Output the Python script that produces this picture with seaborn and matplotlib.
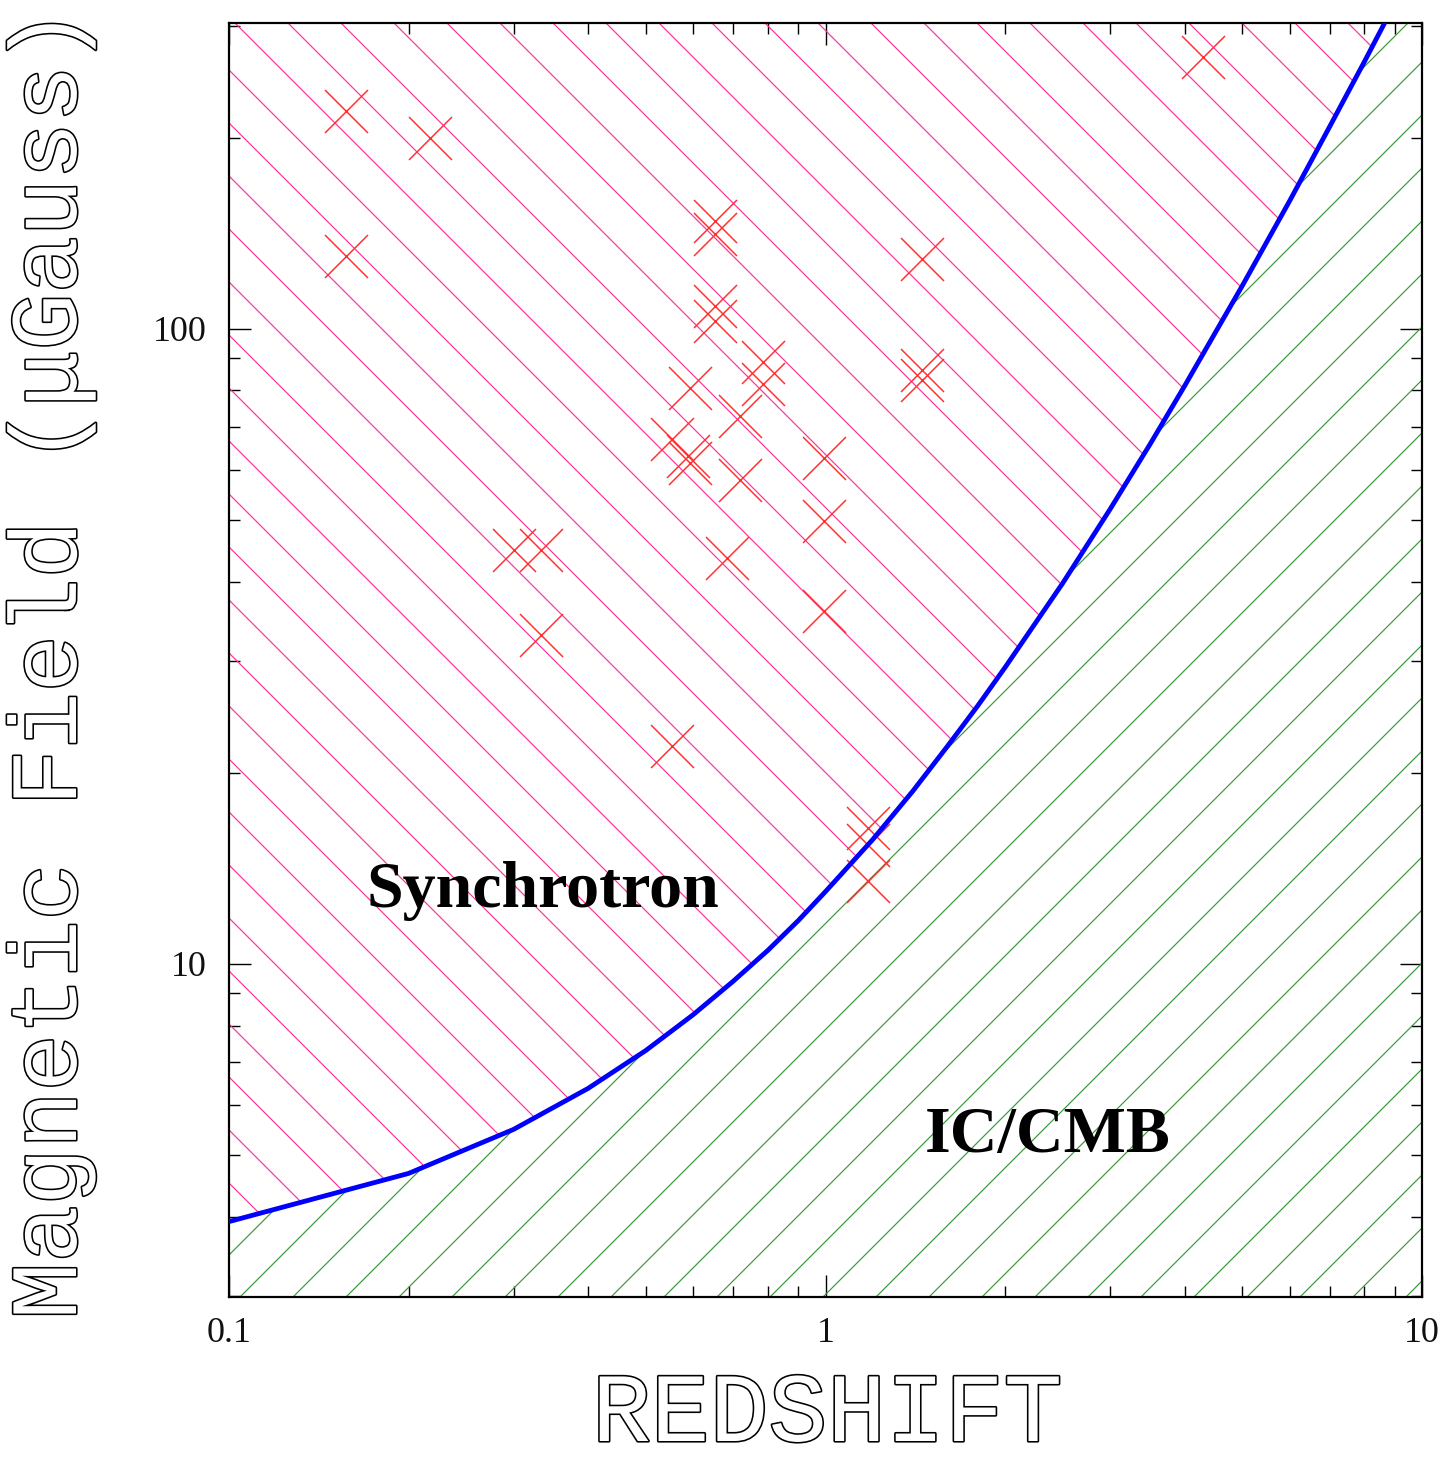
import matplotlib
matplotlib.use("Agg")
import matplotlib.pyplot as plt
import matplotlib.patheffects as pe
from matplotlib.ticker import NullFormatter
import seaborn as sns

# Field equivalent to the CMB energy density versus redshift (microgauss)
curve_z = [0.1, 0.2, 0.3, 0.4, 0.5, 0.6, 0.7, 0.8, 0.9, 1.0,
           1.2, 1.4, 1.6, 1.8, 2.0, 2.5, 3.0, 3.5, 4.0, 5.0,
           6.0, 7.0, 8.0, 9.0, 10.0]
curve_b = [3.93, 4.68, 5.49, 6.37, 7.31, 8.32, 9.39, 10.5, 11.7, 13.0,
           15.7, 18.7, 22.0, 25.5, 29.3, 39.8, 52.0, 65.8, 81.3, 117.0,
           159.0, 208.0, 263.0, 325.0, 393.0]

# Equipartition field estimates for individual sources
src_z = [0.157, 0.217, 0.157, 0.652, 0.652, 0.652, 0.652, 1.452, 1.452, 1.452,
         0.785, 0.785, 0.592, 0.718, 0.553, 0.589, 0.592, 0.718, 0.996, 0.996,
         0.301, 0.333, 0.683, 0.333, 0.996, 0.553, 1.18, 1.18, 1.18, 4.29]
src_b = [220.0, 200.0, 130.0, 148.0, 141.0, 108.8, 103.0, 129.0, 86.1, 83.2,
         88.5, 82.0, 80.6, 72.8, 67.1, 63.1, 61.5, 57.7, 62.5, 49.9,
         44.9, 44.8, 43.5, 32.9, 36.0, 22.0, 16.4, 15.4, 13.5, 268.0]

x_ticks = [0.1, 1, 10]
x_tick_labels = ["0.1", "1", "10"]
y_ticks = [10, 100]
y_tick_labels = ["10", "100"]
x_lim = (0.1, 10.0)
y_lim = (2.99, 303.0)

PINK = "#ff3399"
GREEN = "#3a9a3a"
RED = "#ff3030"
BLUE = "#0000ff"

DPI = 159
W, H = 1448, 1463


def px(v):
    """Convert a size in output pixels to points."""
    return v * 72.0 / DPI


sns.set_theme(style="ticks")
plt.rcParams["font.family"] = ["Liberation Serif", "DejaVu Serif"]
plt.rcParams["hatch.linewidth"] = px(1.2)
plt.rcParams["axes.linewidth"] = px(2.2)
plt.rcParams["axes.edgecolor"] = "black"
plt.rcParams["text.color"] = "black"

fig = plt.figure(figsize=(W / DPI, H / DPI), dpi=DPI)
fig.patch.set_facecolor("white")
ax = fig.add_axes([229 / W, 1 - 1297 / H, (1422 - 229) / W, (1297 - 23) / H])
ax.set_facecolor("white")
ax.set_xscale("log")
ax.set_yscale("log")

# Synchrotron-dominated region (above the curve) and IC/CMB region (below)
ax.fill_between(curve_z, curve_b, y_lim[1], facecolor="none", edgecolor=PINK,
                linewidth=0, hatch="\\", zorder=1)
ax.fill_between(curve_z, y_lim[0], curve_b, facecolor="none", edgecolor=GREEN,
                linewidth=0, hatch="/", zorder=1)

sns.scatterplot(x=src_z, y=src_b, marker="x", s=px(43) ** 2, color=RED,
                linewidth=px(1.5), ax=ax, zorder=4, legend=False)
sns.lineplot(x=curve_z, y=curve_b, color=BLUE, linewidth=px(4.8), ax=ax,
             zorder=5, sort=False, legend=False)

ax.set_xlim(*x_lim)
ax.set_ylim(*y_lim)

ax.set_xticks(x_ticks)
ax.set_xticklabels(x_tick_labels)
ax.set_yticks(y_ticks)
ax.set_yticklabels(y_tick_labels)
ax.xaxis.set_minor_formatter(NullFormatter())
ax.yaxis.set_minor_formatter(NullFormatter())
ax.tick_params(which="both", direction="in", top=True, right=True,
               width=px(1.4), color="black")
ax.tick_params(which="major", length=px(22), labelsize=px(36),
               labelcolor="#111111")
ax.tick_params(which="minor", length=px(11))
ax.tick_params(axis="x", which="major", pad=px(20))
ax.tick_params(axis="y", which="major", pad=px(22))
ax.set_xlabel("")
ax.set_ylabel("")

for spine in ax.spines.values():
    spine.set_visible(True)
    spine.set_linewidth(px(2.2))
    spine.set_color("black")

ax.text(0.170, 12.3, "Synchrotron", fontsize=px(66), fontweight="bold",
        color="black", family=["Liberation Serif", "DejaVu Serif"],
        ha="left", va="baseline", zorder=6)
ax.text(1.465, 5.06, "IC/CMB", fontsize=px(66), fontweight="bold",
        color="black", family=["Liberation Serif", "DejaVu Serif"],
        ha="left", va="baseline", zorder=6)

# Hollow outlined axis titles
outline = [pe.withStroke(linewidth=px(3.2), foreground="black")]
fig.text(827 / W, 1 - 1461 / H, "REDSHIFT", fontsize=px(98), color="white",
         family=["Liberation Mono", "DejaVu Sans Mono"], ha="center",
         va="bottom", path_effects=outline)
fig.text(76 / W, 1 - 664 / H, "Magnetic Field (\u03bcGauss)", fontsize=px(95),
         color="white", family=["Liberation Mono", "DejaVu Sans Mono"],
         rotation=90, rotation_mode="anchor", ha="center", va="baseline",
         path_effects=outline)

fig.savefig("out.png", dpi=DPI, facecolor="white")
